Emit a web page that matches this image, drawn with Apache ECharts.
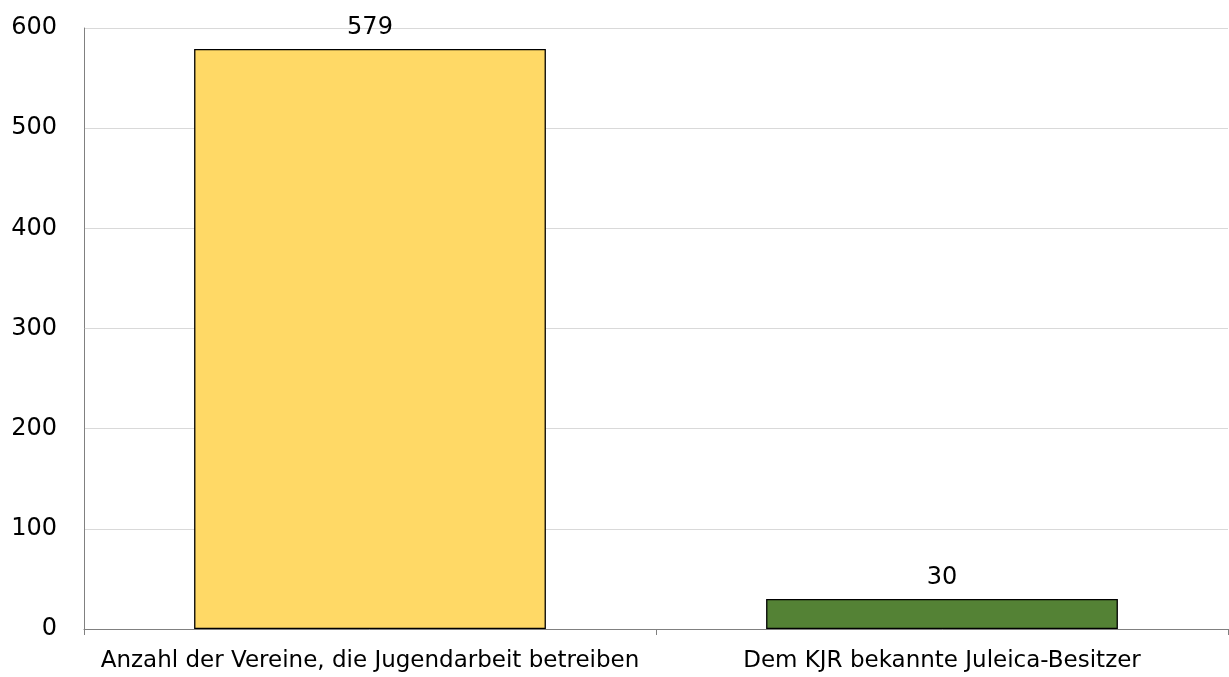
<!DOCTYPE html>
<html>
<head>
<meta charset="utf-8">
<script src="https://cdn.jsdelivr.net/npm/echarts@6/dist/echarts.min.js"></script>
<style>
  html, body { margin: 0; padding: 0; background: #fff; }
  #chart { width: 1229px; height: 677px; }
</style>
</head>
<body>
<div id="chart"></div>
<script>
  // Werte aus der Grafik
  const categories = ['Anzahl der Vereine, die Jugendarbeit betreiben', 'Dem KJR bekannte Juleica-Besitzer'];
  const values = [579, 30];
  const barColors = ['#FFD966', '#548235'];
  const yTicks = [0, 100, 200, 300, 400, 500, 600];

  const font = '"DejaVu Sans", sans-serif';
  const chart = echarts.init(document.getElementById('chart'));

  const option = {
    animation: false,
    grid: { left: 84, right: 1, top: 28, bottom: 48, containLabel: false },
    xAxis: {
      type: 'category',
      data: categories,
      axisLine: { lineStyle: { color: '#808080', width: 1 } },
      axisTick: { show: true, length: 6, lineStyle: { color: '#808080' } },
      axisLabel: { color: '#000', fontFamily: font, fontSize: 23, margin: 21, interval: 0 }
    },
    yAxis: {
      type: 'value',
      min: yTicks[0],
      max: yTicks[yTicks.length - 1],
      interval: 100,
      axisLine: { show: true, lineStyle: { color: '#808080', width: 1 } },
      axisTick: { show: false },
      splitLine: { lineStyle: { color: '#D9D9D9', width: 1 } },
      axisLabel: { color: '#000', fontFamily: font, fontSize: 24, margin: 27 }
    },
    series: [{
      type: 'bar',
      barWidth: '61.5%',
      data: values.map((v, i) => ({
        value: v,
        itemStyle: { color: barColors[i], borderColor: '#000', borderWidth: 1.3 }
      })),
      label: {
        show: true,
        position: 'top',
        distance: 9,
        color: '#000',
        fontFamily: font,
        fontSize: 24
      }
    }]
  };
  chart.setOption(option);
</script>
</body>
</html>
